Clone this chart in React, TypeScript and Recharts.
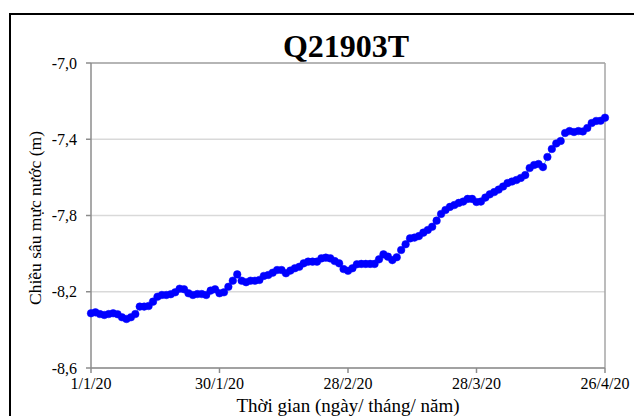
import React from "react";
import { LineChart, Line, XAxis, YAxis, CartesianGrid, ReferenceLine } from "recharts";

const title = "Q21903T";
const yLabel = "Chiều sâu mực nước (m)";
const xLabel = "Thời gian (ngày/ tháng/ năm)";

// daily groundwater depth readings from 1/1/20 to 26/4/20 (m)
const depth: number[] = [
  -8.313, -8.308, -8.317, -8.322, -8.317, -8.313, -8.318, -8.334, -8.343, -8.334,
  -8.317, -8.278, -8.278, -8.275, -8.252, -8.226, -8.217, -8.217, -8.213, -8.203,
  -8.184, -8.187, -8.208, -8.217, -8.212, -8.212, -8.217, -8.194, -8.187, -8.208,
  -8.203, -8.174, -8.142, -8.109, -8.142, -8.150, -8.142, -8.142, -8.138, -8.117,
  -8.112, -8.100, -8.086, -8.086, -8.103, -8.089, -8.077, -8.069, -8.051, -8.042,
  -8.042, -8.042, -8.025, -8.021, -8.025, -8.039, -8.051, -8.081, -8.090, -8.077,
  -8.056, -8.054, -8.054, -8.054, -8.054, -8.030, -8.004, -8.016, -8.034, -8.019,
  -7.981, -7.951, -7.920, -7.916, -7.908, -7.890, -7.876, -7.859, -7.827, -7.792,
  -7.771, -7.755, -7.745, -7.734, -7.727, -7.713, -7.713, -7.729, -7.727, -7.706,
  -7.689, -7.677, -7.664, -7.648, -7.630, -7.622, -7.614, -7.603, -7.588, -7.551,
  -7.535, -7.530, -7.546, -7.493, -7.451, -7.422, -7.409, -7.367, -7.357, -7.362,
  -7.357, -7.359, -7.341, -7.315, -7.304, -7.303, -7.287,
];

const xTickDays = [0, 29, 58, 87, 116];
const xTickLabels = ["1/1/20", "30/1/20", "28/2/20", "28/3/20", "26/4/20"];
const yTicks = [-8.6, -8.2, -7.8, -7.4, -7.0];

const data = depth.map((v, i) => ({ day: i, v }));

const FONT = "'Liberation Serif', 'Times New Roman', Times, serif";

function XTick(props: any) {
  const { x, y, payload } = props;
  const label = xTickLabels[xTickDays.indexOf(payload.value)] ?? "";
  return (
    <text x={x} y={y + 16} textAnchor="middle" fontFamily={FONT} fontSize={16} fill="#000">
      {label}
    </text>
  );
}

function YTick(props: any) {
  const { x, y, payload } = props;
  const label = Number(payload.value).toFixed(1).replace(".", ",");
  return (
    <text x={x - 1} y={y + 5.5} textAnchor="end" fontFamily={FONT} fontSize={16} fill="#000">
      {label}
    </text>
  );
}

export default function App() {
  return (
    <div style={{ position: "absolute", left: 0, top: 0, width: 634, height: 416, overflow: "hidden", background: "#fff" }}>
      <div style={{ position: "absolute", left: 9, top: 13, width: 700, height: 500, border: "2px solid #000", boxSizing: "border-box" }} />
      <div style={{ position: "absolute", left: 0, top: 0 }}>
        <LineChart width={634} height={416} data={data} margin={{ top: 63, right: 29, bottom: 18, left: 31 }}>
          <CartesianGrid horizontal vertical={false} stroke="#D9D9D9" strokeWidth={1.5} />
          <XAxis
            dataKey="day"
            type="number"
            domain={[0, 116]}
            ticks={xTickDays}
            height={30}
            tickSize={5}
            tickMargin={0}
            axisLine={{ stroke: "#8C8C8C", strokeWidth: 1.5 }}
            tickLine={{ stroke: "#8C8C8C", strokeWidth: 1.5 }}
            tick={<XTick />}
            interval={0}
          />
          <YAxis
            type="number"
            domain={[-8.6, -7.0]}
            ticks={yTicks}
            width={60}
            tickSize={5}
            tickMargin={8}
            axisLine={{ stroke: "#8C8C8C", strokeWidth: 1.5 }}
            tickLine={{ stroke: "#8C8C8C", strokeWidth: 1.5 }}
            tick={<YTick />}
            interval={0}
          />
          <ReferenceLine y={-7.0} stroke="#A6A6A6" strokeWidth={1.5} />
          <ReferenceLine x={116} stroke="#A6A6A6" strokeWidth={1.5} />
          <Line
            type="linear"
            dataKey="v"
            stroke="#5AA8DC"
            strokeWidth={1}
            dot={{ r: 3.8, fill: "#0000FF", stroke: "#0000FF", strokeWidth: 0.5 }}
            isAnimationActive={false}
          />
        </LineChart>
      </div>
      <svg width={634} height={416} style={{ position: "absolute", left: 0, top: 0, pointerEvents: "none" }}>
        <text x={346} y={57} textAnchor="middle" fontFamily={FONT} fontWeight={700} fontSize={32} fill="#000">
          {title}
        </text>
        <text
          x={0}
          y={0}
          transform="translate(41,218) rotate(-90)"
          textAnchor="middle"
          fontFamily={FONT}
          fontSize={17.5}
          fill="#000"
        >
          {yLabel}
        </text>
        <text x={348} y={412} textAnchor="middle" fontFamily={FONT} fontSize={19} fill="#000">
          {xLabel}
        </text>
      </svg>
    </div>
  );
}
